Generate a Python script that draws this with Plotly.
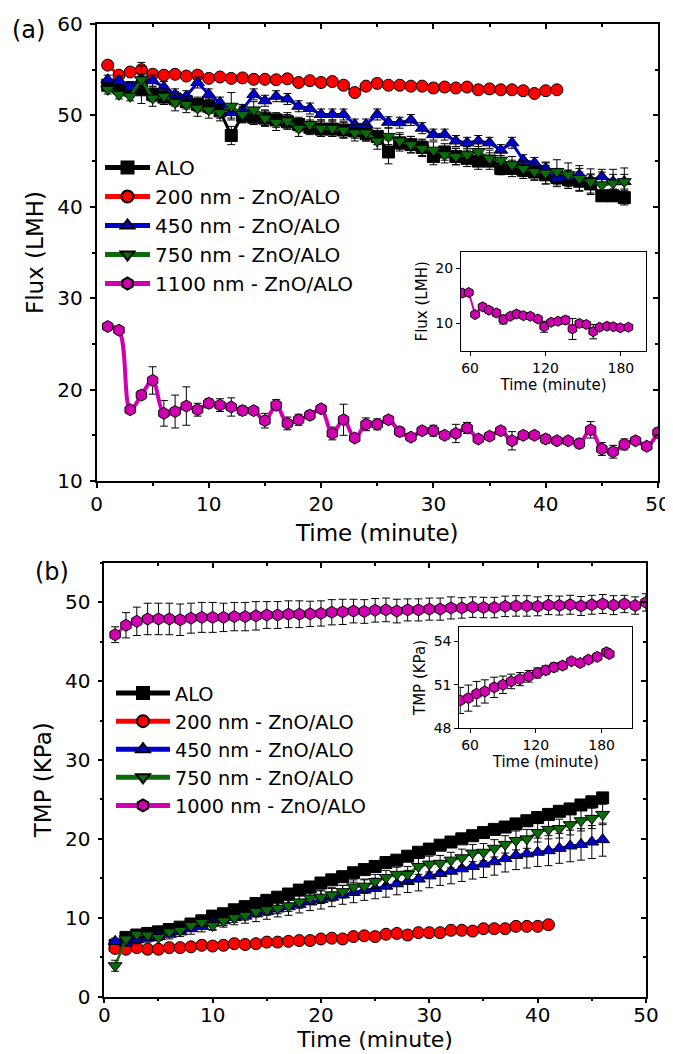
import plotly.graph_objects as go

# ---------------- data: panel (a) flux ----------------
t_a = list(range(1, 51))
alo_a = [53.3, 53.0, 53.0, 52.8, 52.3, 52.0, 51.8, 51.5, 51.2, 51.0, 50.5, 47.8, 50.0, 49.8,
         49.7, 49.5, 49.3, 49.0, 48.7, 48.5, 48.5, 48.4, 48.3, 48.0, 47.7, 46.0, 47.0, 46.8,
         46.5, 45.5, 46.0, 45.5, 45.3, 45.0, 45.0, 44.2, 44.2, 44.0, 43.8, 43.5, 43.2, 43.0,
         42.8, 42.5, 41.2, 41.2, 41.0]
alo_a_err = [0.5, 0.5, 0.6, 1.5, 0.8, 0.8, 0.8, 0.8, 0.8, 0.8, 0.8, 1.0, 0.8, 0.8,
             0.8, 0.8, 0.8, 0.8, 0.8, 0.8, 0.8, 0.8, 0.8, 0.8, 0.9, 1.3, 0.9, 0.9,
             0.9, 0.9, 0.9, 0.9, 0.9, 0.9, 0.9, 0.7, 0.9, 0.9, 0.9, 1.0, 1.0, 1.0,
             1.0, 1.0, 0.6, 0.6, 0.8]
r200_a = [55.5, 54.4, 54.75, 55.0, 54.5, 54.4, 54.5, 54.3, 54.4, 54.05, 54.2, 54.05, 54.1, 53.95,
          53.95, 53.9, 54.0, 53.6, 53.8, 53.6, 53.7, 53.3, 52.5, 53.2, 53.5, 53.3, 53.3, 53.2,
          53.2, 53.0, 53.1, 53.0, 53.1, 52.8, 52.9, 52.8, 52.8, 52.7, 52.4, 52.7, 52.8]
r200_a_err = [0.3, 0.3, 0.3, 0.8, 0.4, 0.4, 0.4, 0.3, 0.3, 0.3, 0.3, 0.3, 0.3, 0.3,
              0.3, 0.3, 0.3, 0.3, 0.3, 0.3, 0.3, 0.3, 0.4, 0.4, 0.3, 0.4, 0.4, 0.4,
              0.4, 0.4, 0.3, 0.3, 0.3, 0.4, 0.4, 0.4, 0.3, 0.4, 0.4, 0.4, 0.4]
b450_a = [53.9, 53.8, 53.1, 53.9, 53.8, 53.1, 52.3, 52.1, 53.6, 52.3, 51.4, 50.3, 50.6, 52.3,
          51.6, 52.1, 51.8, 51.0, 50.75, 50.1, 50.1, 50.1, 49.0, 49.0, 50.1, 49.25, 49.2, 49.5,
          48.6, 47.9, 47.9, 47.2, 47.0, 47.2, 47.0, 46.2, 47.0, 45.1, 44.8, 44.2, 43.1, 43.3,
          43.5, 42.9, 43.3, 42.75, 42.75]
b450_a_err = [0.5, 0.5, 0.6, 0.6, 0.6, 0.6, 0.6, 0.6, 0.6, 0.6, 0.6, 0.6, 0.6, 0.6,
              0.6, 0.6, 0.6, 0.6, 0.6, 0.6, 0.6, 0.6, 0.6, 0.6, 0.6, 0.6, 0.6, 0.6,
              0.6, 0.6, 0.6, 0.6, 0.6, 0.6, 0.6, 0.6, 0.6, 0.6, 0.6, 0.6, 0.7, 0.7,
              0.7, 0.7, 0.8, 0.8, 0.8]
g750_a = [52.85, 52.3, 52.1, 53.9, 51.9, 52.1, 51.4, 51.2, 50.8, 50.6, 50.3, 51.0, 50.1, 50.6,
          49.7, 49.25, 49.4, 48.6, 49.0, 48.6, 48.6, 48.4, 48.1, 48.1, 47.2, 47.7, 47.2, 46.8,
          46.4, 46.2, 45.7, 45.5, 45.7, 46.05, 45.3, 45.1, 44.6, 44.2, 43.85, 43.7, 43.85, 43.5,
          43.1, 42.75, 42.4, 42.6, 42.75]
g750_a_err = [0.5, 0.5, 0.5, 1.5, 0.9, 0.9, 0.9, 0.9, 0.9, 0.9, 0.9, 1.5, 0.9, 0.9,
              0.9, 0.9, 0.9, 0.9, 0.9, 0.9, 0.9, 0.9, 0.9, 0.9, 0.9, 0.9, 0.9, 0.9,
              0.9, 0.9, 0.9, 0.9, 0.9, 0.9, 0.9, 0.9, 0.9, 0.9, 0.9, 1.2, 1.3, 1.3,
              1.4, 1.4, 1.4, 1.5, 1.5]
m1100_a = [26.9, 26.5, 17.8, 19.4, 21.0, 17.4, 17.6, 18.2, 17.8, 18.5, 18.3, 18.1, 17.7, 17.7,
           16.6, 18.3, 16.3, 16.7, 17.2, 17.9, 15.2, 16.7, 14.7, 16.2, 16.2, 16.7, 15.4, 14.8,
           15.5, 15.5, 15.0, 15.2, 15.8, 14.6, 14.9, 15.5, 14.4, 15.0, 15.0, 14.6, 14.4, 14.4,
           14.1, 15.6, 13.5, 13.2, 14.0, 14.4, 13.8, 15.3]
m1100_a_err = [0.3, 0.3, 0.4, 0.5, 1.5, 1.4, 1.8, 2.1, 0.7, 0.5, 0.7, 1.0, 0.5, 0.3,
               0.8, 0.6, 0.7, 0.6, 0.5, 0.4, 0.7, 1.7, 0.3, 0.7, 0.6, 0.4, 0.5, 0.4,
               0.4, 0.6, 0.4, 1.0, 0.6, 0.4, 0.3, 0.4, 1.0, 0.4, 0.4, 0.5, 0.4, 0.3,
               0.5, 0.9, 0.7, 0.7, 0.6, 0.4, 0.4, 0.5]

# inset (a): 1100 nm flux, long run
t_ia = [54, 59, 64, 70, 75, 81, 86.5, 92, 97, 102.5, 108, 114, 119, 124.5, 130, 136, 141.5,
        147, 152.5, 158, 163, 169, 174, 179.5, 186]
m1100_ia = [15.5, 15.6, 11.6, 13.0, 12.4, 11.9, 10.7, 11.3, 11.7, 11.4, 11.3, 10.8, 9.4, 10.2,
            10.4, 10.6, 9.0, 10.0, 9.8, 8.5, 9.3, 9.5, 9.4, 9.2, 9.3]
m1100_ia_err = [0.4, 0.5, 0.5, 0.5, 0.5, 0.6, 0.8, 0.5, 0.5, 0.5, 0.5, 0.5, 1.0, 0.5,
                0.5, 0.7, 1.9, 0.5, 0.5, 1.3, 0.4, 0.4, 0.4, 0.4, 0.4]

# ---------------- data: panel (b) TMP ----------------
t_b = list(range(1, 51))
alo_b = [6.5, 7.5, 7.8, 8.0, 8.2, 8.5, 8.8, 9.2, 9.6, 10.2, 10.5, 11.0, 11.4, 11.8,
         12.2, 12.6, 13.0, 13.5, 13.9, 14.4, 14.8, 15.2, 15.7, 16.1, 16.5, 17.0, 17.3, 17.8,
         18.3, 18.7, 19.2, 19.6, 20.0, 20.4, 20.8, 21.2, 21.5, 21.9, 22.3, 22.7, 23.1, 23.5,
         23.8, 24.3, 24.7, 25.2]
alo_b_err = [0.4] * 46
r200_b = [6.1, 6.0, 6.2, 6.0, 6.0, 6.2, 6.2, 6.3, 6.5, 6.4, 6.5, 6.7, 6.6, 6.7,
          6.9, 6.9, 7.0, 7.1, 7.1, 7.3, 7.4, 7.3, 7.6, 7.7, 7.6, 7.9, 8.0, 7.8,
          8.1, 8.1, 8.1, 8.4, 8.4, 8.3, 8.6, 8.6, 8.6, 8.9, 8.9, 8.9, 9.1]
r200_b_err = [0.4] * 41
b450_b = [7.0, 6.8, 7.2, 7.4, 7.6, 7.9, 8.2, 8.6, 8.9, 9.3, 9.6, 10.0, 10.2, 10.5,
          10.8, 11.1, 11.4, 11.7, 12.0, 12.3, 12.6, 12.9, 13.2, 13.5, 13.7, 14.0, 14.3, 14.6,
          14.9, 15.3, 15.6, 15.9, 16.2, 16.5, 16.8, 17.1, 17.5, 17.9, 18.1, 18.3, 18.5, 18.8,
          19.1, 19.3, 19.6, 19.9]
b450_b_err = [0.4, 0.4, 0.5, 0.5, 0.5, 0.6, 0.6, 0.7, 0.7, 0.8, 0.8, 0.9, 0.9, 1.0,
              1.0, 1.0, 1.1, 1.1, 1.1, 1.2, 1.2, 1.2, 1.3, 1.3, 1.3, 1.4, 1.4, 1.4,
              1.5, 1.5, 1.5, 1.6, 1.6, 1.6, 1.7, 1.7, 1.7, 1.8, 1.8, 1.8, 1.9, 1.9,
              2.0, 2.0, 2.1, 2.1]
g750_b = [3.9, 7.3, 7.9, 7.8, 7.5, 8.2, 8.4, 9.0, 9.4, 9.0, 9.6, 10.0, 10.3, 10.8,
          11.0, 11.2, 11.5, 12.0, 12.5, 12.6, 12.9, 13.3, 13.9, 14.0, 14.6, 15.1, 15.5, 15.5,
          16.5, 16.8, 16.9, 17.3, 17.6, 18.2, 18.3, 18.8, 19.3, 19.8, 20.0, 20.8, 21.2, 21.3,
          21.8, 22.3, 22.6, 23.1]
g750_b_err = [0.7, 0.4, 0.4, 0.4, 0.4, 0.5, 0.5, 0.5, 0.5, 0.6, 0.6, 0.6, 0.6, 0.7,
              0.7, 0.7, 0.7, 0.8, 0.8, 0.8, 0.8, 0.8, 0.9, 0.9, 0.9, 0.9, 0.9, 1.0,
              1.0, 1.0, 1.0, 1.0, 1.1, 1.1, 1.1, 1.1, 1.1, 1.2, 1.2, 1.2, 1.2, 1.2,
              1.3, 1.3, 1.3, 1.3]
m1000_b = [45.9, 47.1, 47.6, 47.9, 47.9, 47.9, 47.8, 48.0, 48.1, 48.1, 48.1, 48.2, 48.2, 48.3,
           48.4, 48.4, 48.5, 48.5, 48.55, 48.6, 48.75, 48.8, 48.9, 48.85, 49.0, 49.05, 48.9, 49.05,
           49.05, 49.15, 49.15, 49.3, 49.3, 49.4, 49.35, 49.35, 49.5, 49.55, 49.55, 49.5, 49.65, 49.6,
           49.7, 49.55, 49.7, 49.8, 49.65, 49.8, 49.6, 50.0]
m1000_b_err = [1.0, 1.6, 1.8, 2.0, 2.0, 2.0, 2.0, 1.9, 1.9, 1.9, 1.8, 1.8, 1.8, 1.8,
               1.7, 1.7, 1.7, 1.7, 1.6, 1.6, 1.6, 1.6, 1.5, 1.5, 1.5, 1.5, 1.5, 1.4,
               1.4, 1.4, 1.4, 1.4, 1.3, 1.3, 1.3, 1.3, 1.3, 1.3, 1.3, 1.2, 1.2, 1.2,
               1.2, 1.2, 1.2, 1.2, 1.2, 1.1, 1.1, 1.1]

# inset (b): 1000 nm TMP, long run
t_ib = [51, 58.5, 66, 73.5, 82, 90, 97.5, 105.5, 113.5, 121.5, 129, 136.5, 144.5, 152.5,
        160.5, 168, 176, 184.5, 187]
m1000_ib = [49.92, 50.08, 50.38, 50.54, 50.82, 51.0, 51.23, 51.39, 51.58, 51.81, 52.0, 52.2,
            52.32, 52.62, 52.5, 52.73, 52.92, 53.24, 53.12]
m1000_ib_err = [0.9, 0.9, 0.85, 0.8, 0.7, 0.6, 0.5, 0.45, 0.4, 0.35, 0.3, 0.3,
                0.25, 0.2, 0.2, 0.2, 0.25, 0.25, 0.2]

labels_a = ["ALO", "200 nm - ZnO/ALO", "450 nm - ZnO/ALO", "750 nm - ZnO/ALO", "1100 nm - ZnO/ALO"]
labels_b = ["ALO", "200 nm - ZnO/ALO", "450 nm - ZnO/ALO", "750 nm - ZnO/ALO", "1000 nm - ZnO/ALO"]
colors = ["#000000", "#FF0000", "#0000CC", "#0B6B0B", "#D000B0"]
symbols = ["square", "circle", "triangle-up", "triangle-down", "hexagon"]

FONT = "DejaVu Sans"
fig = go.Figure()


def add(x, y, err, name, color, symbol, xa, ya, legend, size, lw, shape="linear", showlegend=True):
    fig.add_trace(go.Scatter(
        x=x[:len(y)], y=y, name=name, mode="lines+markers",
        line=dict(color=color, width=lw, shape=shape),
        marker=dict(symbol=symbol, size=size, color=color, line=dict(color="black", width=1)),
        error_y=dict(type="data", array=err, color="black", thickness=1, width=4),
        xaxis=xa, yaxis=ya, legend=legend, showlegend=showlegend, cliponaxis=True))


series_a = [alo_a, r200_a, b450_a, g750_a, m1100_a]
errs_a = [alo_a_err, r200_a_err, b450_a_err, g750_a_err, m1100_a_err]
for i in range(5):
    add(t_a, series_a[i], errs_a[i], labels_a[i], colors[i], symbols[i], "x", "y", "legend",
        12, 4 if i == 4 else 3, shape="spline" if i == 4 else "linear")

add(t_ia, m1100_ia, m1100_ia_err, "1100 nm inset", colors[4], "hexagon", "x3", "y3", "legend",
    10, 2, showlegend=False)

series_b = [alo_b, r200_b, b450_b, g750_b, m1000_b]
errs_b = [alo_b_err, r200_b_err, b450_b_err, g750_b_err, m1000_b_err]
for i in range(5):
    add(t_b, series_b[i], errs_b[i], labels_b[i], colors[i], symbols[i], "x2", "y2", "legend2",
        12, 2.5)

add(t_ib, m1000_ib, m1000_ib_err, "1000 nm inset", colors[4], "hexagon", "x4", "y4", "legend2",
    11, 2, showlegend=False)

# helper traces so the mirrored (top/right) axes with inward ticks get drawn
for xa, ya in (("x5", "y5"), ("x6", "y6")):
    fig.add_trace(go.Scatter(x=[None], y=[None], xaxis=xa, yaxis=ya, showlegend=False,
                             hoverinfo="skip", mode="markers"))

# the page body adds an 8 px margin at top/left; work in page pixels and convert
OFF = 8
W, H = 673 - OFF, 1054 - OFF


def px(x):
    return (x - OFF) / W


def py(y):
    return 1 - (y - OFF) / H


dom_xa = [px(96.5), px(658)]
dom_ya = [py(481), py(24)]
dom_xb = [px(104.3), px(646)]
dom_yb = [py(996.5), py(563)]
dom_xia = [px(461), px(646)]
dom_yia = [py(351), py(251.7)]
dom_xib = [px(459.3), px(632.3)]
dom_yib = [py(728.3), py(626.7)]

tickf = dict(family=FONT, size=20, color="black")
titlef = dict(family=FONT, size=23, color="black")
titlefb = dict(family=FONT, size=22, color="black")
insf = dict(family=FONT, size=14, color="black")
inst = dict(family=FONT, size=15, color="black")

common = dict(showline=True, linecolor="black", linewidth=1.5, ticks="outside", ticklen=5,
              tickwidth=1.5, tickcolor="black", showgrid=False, zeroline=False, mirror=True,
              automargin=False)
inset = dict(showline=True, linecolor="black", linewidth=1, mirror=True, ticks="outside",
             ticklen=4, tickcolor="black", showgrid=False, zeroline=False, automargin=False)
over = dict(showticklabels=False, ticks="inside", ticklen=5, tickwidth=1.5, tickcolor="black",
            minor=dict(dtick=5, ticks="inside", ticklen=3, tickcolor="black"),
            showgrid=False, zeroline=False, showline=False, automargin=False)
minor = dict(dtick=5, ticks="outside", ticklen=3, tickcolor="black")

fig.update_layout(
    width=W, height=H, margin=dict(l=0, r=0, t=0, b=0, autoexpand=False),
    paper_bgcolor="white", plot_bgcolor="rgba(0,0,0,0)",
    font=dict(family=FONT, color="black"),
    xaxis=dict(domain=dom_xa, anchor="y", range=[0, 50], dtick=10, tickfont=tickf,
               ticklabelstandoff=-1,
               title=dict(text="Time (minute)", font=titlef, standoff=10), minor=minor, **common),
    yaxis=dict(domain=dom_ya, anchor="x", range=[10, 60], dtick=10, tickfont=tickf,
               ticklabelstandoff=3,
               title=dict(text="Flux (LMH)", font=titlef, standoff=7), minor=minor, **common),
    xaxis2=dict(domain=dom_xb, anchor="y2", range=[0, 50], dtick=10, tickfont=tickf,
                ticklabelstandoff=-5,
                title=dict(text="Time (minute)", font=titlefb, standoff=5), minor=minor, **common),
    yaxis2=dict(domain=dom_yb, anchor="x2", range=[0, 55], dtick=10, tickfont=tickf,
                ticklabelstandoff=3,
                title=dict(text="TMP (KPa)", font=titlef, standoff=7), minor=minor, **common),
    xaxis3=dict(domain=dom_xia, anchor="y3", range=[52.8, 200], tickvals=[60, 120, 180],
                tickfont=insf, title=dict(text="Time (minute)", font=inst, standoff=4), **inset),
    yaxis3=dict(domain=dom_yia, anchor="x3", range=[5, 23], tickvals=[10, 20],
                tickfont=insf, title=dict(text="Flux (LMH)", font=inst, standoff=4), **inset),
    xaxis4=dict(domain=dom_xib, anchor="y4", range=[50.2, 208], tickvals=[60, 120, 180],
                tickfont=insf, title=dict(text="Time (minute)", font=inst, standoff=2), **inset),
    yaxis4=dict(domain=dom_yib, anchor="x4", range=[48, 55], tickvals=[48, 51, 54],
                tickfont=insf, title=dict(text="TMP (KPa)", font=inst, standoff=4), **inset),
    xaxis5=dict(overlaying="x", side="top", anchor="y5", range=[0, 50], dtick=10, **over),
    yaxis5=dict(overlaying="y", side="right", anchor="x5", range=[10, 60], dtick=10, **over),
    xaxis6=dict(overlaying="x2", side="top", anchor="y6", range=[0, 50], dtick=10, **over),
    yaxis6=dict(overlaying="y2", side="right", anchor="x6", range=[0, 55], dtick=10, **over),
    legend=dict(x=px(100), y=py(148), xanchor="left", yanchor="top",
                bgcolor="rgba(0,0,0,0)", borderwidth=0, itemwidth=45,
                font=dict(family=FONT, size=20, color="black"), itemsizing="constant"),
    legend2=dict(x=px(111), y=py(674), xanchor="left", yanchor="top",
                 bgcolor="rgba(0,0,0,0)", borderwidth=0, itemwidth=54,
                 font=dict(family=FONT, size=19.3, color="black"), itemsizing="constant"),
    showlegend=True,
    annotations=[
        dict(text="(a)", x=px(28), y=py(30), xref="paper", yref="paper", showarrow=False,
             xanchor="center", yanchor="middle", font=dict(family=FONT, size=24, color="black")),
        dict(text="(b)", x=px(52), y=py(572), xref="paper", yref="paper", showarrow=False,
             xanchor="center", yanchor="middle", font=dict(family=FONT, size=24, color="black")),
    ],
)

fig.write_html("out.html")
